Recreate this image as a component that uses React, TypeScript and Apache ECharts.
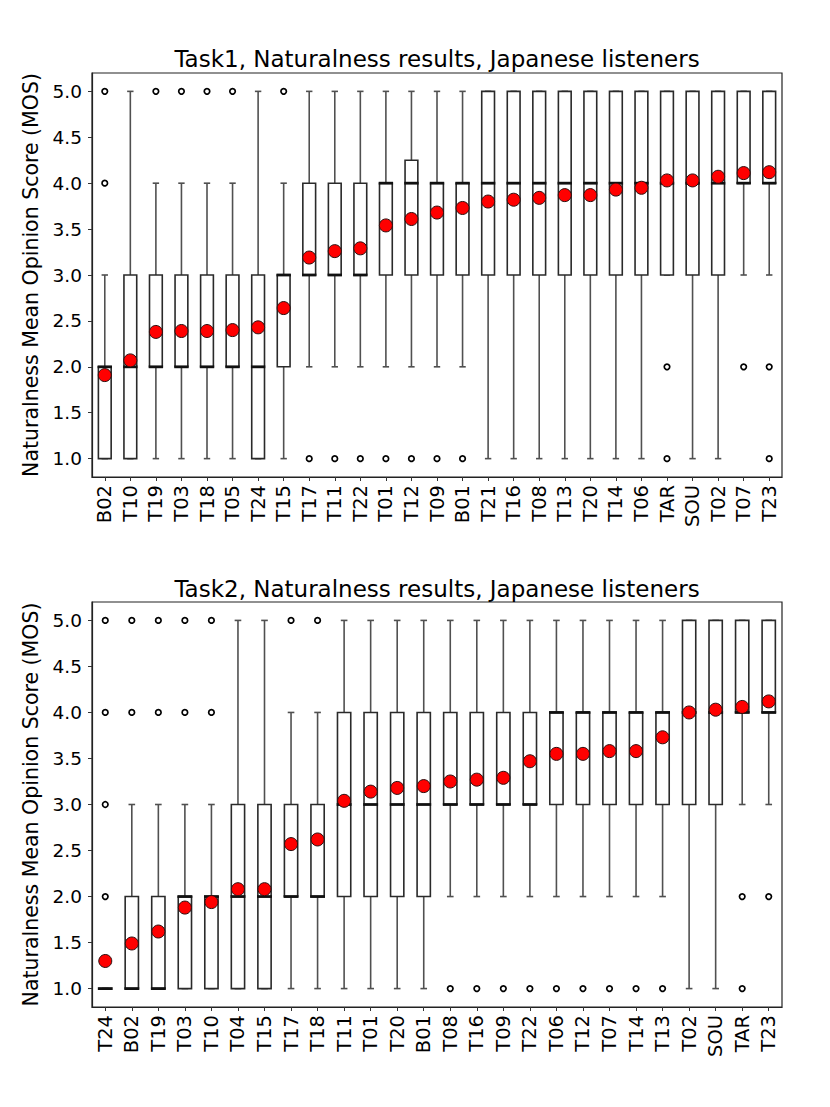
import React, { useEffect, useRef } from 'react';
import * as echarts from 'echarts';

const FONT = '"DejaVu Sans", sans-serif';

// ---------- Task 1 ----------
const task1Categories = ['B02', 'T10', 'T19', 'T03', 'T18', 'T05', 'T24', 'T15', 'T17', 'T11', 'T22', 'T01', 'T12', 'T09', 'B01', 'T21', 'T16', 'T08', 'T13', 'T20', 'T14', 'T06', 'TAR', 'SOU', 'T02', 'T07', 'T23'];
// [lower whisker, Q1, median, Q3, upper whisker]
const task1Stats = [
  [1, 1, 2, 2, 3], [1, 1, 2, 3, 5], [1, 2, 2, 3, 4], [1, 2, 2, 3, 4], [1, 2, 2, 3, 4],
  [1, 2, 2, 3, 4], [1, 1, 2, 3, 5], [1, 2, 3, 3, 4], [2, 3, 3, 4, 5], [2, 3, 3, 4, 5],
  [2, 3, 3, 4, 5], [2, 3, 4, 4, 5], [2, 3, 4, 4.25, 5], [2, 3, 4, 4, 5], [2, 3, 4, 4, 5],
  [1, 3, 4, 5, 5], [1, 3, 4, 5, 5], [1, 3, 4, 5, 5], [1, 3, 4, 5, 5], [1, 3, 4, 5, 5],
  [1, 3, 4, 5, 5], [1, 3, 4, 5, 5], [3, 3, 4, 5, 5], [1, 3, 4, 5, 5], [1, 3, 4, 5, 5],
  [3, 4, 4, 5, 5], [3, 4, 4, 5, 5],
];
const task1Means = [1.91, 2.07, 2.38, 2.39, 2.39, 2.40, 2.43, 2.64, 3.19, 3.26, 3.29, 3.54, 3.61, 3.68, 3.73, 3.80, 3.82, 3.84, 3.87, 3.87, 3.93, 3.95, 4.03, 4.03, 4.07, 4.11, 4.12];
const task1Outliers = [
  [4, 5], [], [5], [5], [5], [5], [], [5], [1], [1], [1], [1], [1], [1], [1],
  [], [], [], [], [], [], [], [2, 1], [], [], [2], [2, 1],
];

// ---------- Task 2 ----------
const task2Categories = ['T24', 'B02', 'T19', 'T03', 'T10', 'T04', 'T15', 'T17', 'T18', 'T11', 'T01', 'T20', 'B01', 'T08', 'T16', 'T09', 'T22', 'T06', 'T12', 'T07', 'T14', 'T13', 'T02', 'SOU', 'TAR', 'T23'];
const task2Stats = [
  [1, 1, 1, 1, 1], [1, 1, 1, 2, 3], [1, 1, 1, 2, 3], [1, 1, 2, 2, 3], [1, 1, 2, 2, 3],
  [1, 1, 2, 3, 5], [1, 1, 2, 3, 5], [1, 2, 2, 3, 4], [1, 2, 2, 3, 4], [1, 2, 3, 4, 5],
  [1, 2, 3, 4, 5], [1, 2, 3, 4, 5], [1, 2, 3, 4, 5], [2, 3, 3, 4, 5], [2, 3, 3, 4, 5],
  [2, 3, 3, 4, 5], [2, 3, 3, 4, 5], [2, 3, 4, 4, 5], [2, 3, 4, 4, 5], [2, 3, 4, 4, 5],
  [2, 3, 4, 4, 5], [2, 3, 4, 4, 5], [1, 3, 4, 5, 5], [1, 3, 4, 5, 5], [3, 4, 4, 5, 5],
  [3, 4, 4, 5, 5],
];
const task2Means = [1.30, 1.49, 1.62, 1.88, 1.94, 2.08, 2.08, 2.57, 2.62, 3.04, 3.14, 3.18, 3.20, 3.25, 3.27, 3.29, 3.47, 3.55, 3.55, 3.58, 3.58, 3.73, 4.00, 4.03, 4.06, 4.12];
const task2Outliers = [
  [5, 4, 3, 2], [5, 4], [5, 4], [5, 4], [5, 4], [], [], [5], [5], [], [], [], [],
  [1], [1], [1], [1], [1], [1], [1], [1], [1], [], [], [2, 1], [2],
];

const yTicks = [1.0, 1.5, 2.0, 2.5, 3.0, 3.5, 4.0, 4.5, 5.0];
const titles = ['Task1, Naturalness results, Japanese listeners', 'Task2, Naturalness results, Japanese listeners'];
const yName = 'Naturalness Mean Opinion Score (MOS)';

function flattenOutliers(outs: number[][]) {
  const r: number[][] = [];
  outs.forEach((arr, i) => arr.forEach((v) => r.push([i, v])));
  return r;
}

function renderBox(params: any, api: any) {
  const i = api.value(0);
  const pLow = api.coord([i, api.value(1)]);
  const x = pLow[0];
  const yLow = pLow[1];
  const yQ1 = api.coord([i, api.value(2)])[1];
  const yMed = api.coord([i, api.value(3)])[1];
  const yQ3 = api.coord([i, api.value(4)])[1];
  const yHigh = api.coord([i, api.value(5)])[1];
  const band = api.size([1, 0])[0];
  const bw = band * 0.5;
  const cw = bw * 0.5;
  const whisk = { stroke: '#505050', lineWidth: 1.6, fill: 'none' };
  return {
    type: 'group',
    children: [
      { type: 'line', shape: { x1: x, y1: yQ1, x2: x, y2: yLow }, style: whisk },
      { type: 'line', shape: { x1: x, y1: yQ3, x2: x, y2: yHigh }, style: whisk },
      { type: 'line', shape: { x1: x - cw / 2, y1: yLow, x2: x + cw / 2, y2: yLow }, style: whisk },
      { type: 'line', shape: { x1: x - cw / 2, y1: yHigh, x2: x + cw / 2, y2: yHigh }, style: whisk },
      { type: 'rect', shape: { x: x - bw / 2, y: yQ3, width: bw, height: yQ1 - yQ3 }, style: { fill: '#fff', stroke: '#2a2a2a', lineWidth: 1.6 } },
      { type: 'line', shape: { x1: x - bw / 2 - 0.8, y1: yMed, x2: x + bw / 2 + 0.8, y2: yMed }, style: { stroke: '#111', lineWidth: 2.8 } },
    ],
  };
}

export default function App() {
  const ref = useRef<HTMLDivElement>(null);
  useEffect(() => {
    if (!ref.current) return;
    const chart = echarts.init(ref.current, null, { renderer: 'svg' });
    const tasks = [
      { cats: task1Categories, stats: task1Stats, means: task1Means, outs: task1Outliers },
      { cats: task2Categories, stats: task2Stats, means: task2Means, outs: task2Outliers },
    ];
    const gridTops = [73, 602];
    const gridHeights = [404, 405];
    const grid = tasks.map((_, k) => ({
      left: 92, top: gridTops[k], width: 690, height: gridHeights[k],
      show: true, borderColor: '#222', borderWidth: 1.2, backgroundColor: 'transparent', containLabel: false,
    }));
    const xAxis = tasks.map((t, k) => ({
      type: 'category', gridIndex: k, data: t.cats, boundaryGap: true,
      axisLine: { show: true, lineStyle: { color: '#222', width: 1.2 } },
      axisTick: { show: true, alignWithLabel: true, length: 4, lineStyle: { color: '#333' } },
      axisLabel: { interval: 0, rotate: 90, fontSize: 19.5, color: '#000', fontFamily: FONT, margin: 8 },
      splitLine: { show: false },
    }));
    const yAxis = tasks.map((_, k) => ({
      type: 'value', gridIndex: k, min: 0.8, max: 5.2,
      name: yName, nameLocation: 'middle', nameGap: 46,
      nameTextStyle: { fontSize: 20.5, color: '#000', fontFamily: FONT },
      axisLine: { show: true, lineStyle: { color: '#222', width: 1.2 } },
      axisTick: { show: true, length: 4, customValues: yTicks, lineStyle: { color: '#333' } },
      axisLabel: { customValues: yTicks, fontSize: 18.5, color: '#000', fontFamily: FONT, margin: 10, formatter: (v: number) => v.toFixed(1) },
      splitLine: { show: false },
    }));
    const series: any[] = [];
    tasks.forEach((t, k) => {
      series.push({
        type: 'custom', xAxisIndex: k, yAxisIndex: k,
        data: t.stats.map((s, i) => [i, ...s]),
        encode: { x: 0, y: [1, 2, 3, 4, 5] },
        renderItem: renderBox, z: 2,
      });
      series.push({
        type: 'scatter', xAxisIndex: k, yAxisIndex: k,
        data: flattenOutliers(t.outs), symbol: 'circle', symbolSize: 5.5,
        itemStyle: { color: '#fff', borderColor: '#000', borderWidth: 1.7, opacity: 1 }, z: 3,
      });
      series.push({
        type: 'scatter', xAxisIndex: k, yAxisIndex: k,
        data: t.means.map((m, i) => [i, m]), symbol: 'circle', symbolSize: 13,
        itemStyle: { color: '#ff0000', borderColor: '#2a1010', borderWidth: 1, opacity: 1 }, z: 4,
      });
    });
    chart.setOption({
      animation: false,
      backgroundColor: '#fff',
      grid, xAxis, yAxis, series,
      graphic: titles.map((txt, k) => ({
        type: 'text', x: 437, y: [58.5, 588.5][k],
        style: { text: txt, fontSize: 23, fontFamily: FONT, fill: '#000', textAlign: 'center', textVerticalAlign: 'middle' },
      })),
    });
    return () => chart.dispose();
  }, []);
  return <div ref={ref} style={{ position: 'absolute', left: 0, top: 0, width: 830, height: 1107 }} />;
}
